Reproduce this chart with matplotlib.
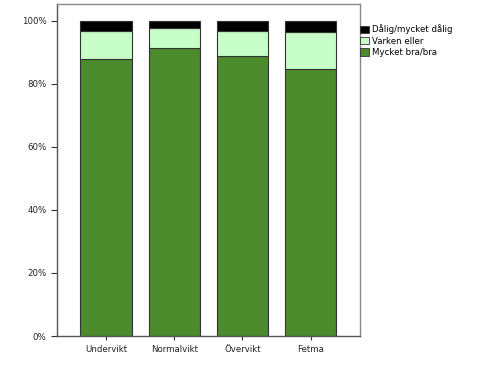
import matplotlib
matplotlib.use("Agg")
import matplotlib.pyplot as plt
import numpy as np
from matplotlib.patches import Patch
from matplotlib.ticker import PercentFormatter

# Data (percent of each BMI group)
categories = ["Undervikt", "Normalvikt", "Övervikt", "Fetma"]
mycket_bra = [87.8, 91.4, 88.9, 84.6]
varken = [8.8, 6.2, 7.9, 11.7]
dalig = [3.4, 2.4, 3.2, 3.7]

labels = ["Dålig/mycket dålig", "Varken eller", "Mycket bra/bra"]
colors = ["#000000", "#c8ffc8", "#4b8b2b"]

fig = plt.figure(figsize=(4.81, 3.83), dpi=100)
ax = fig.add_axes([0.1185, 0.1227, 0.6295, 0.867])

x = np.arange(len(categories))
w = 0.755
edge = "#333333"
ax.bar(x, mycket_bra, w, color=colors[2], edgecolor=edge, linewidth=0.8)
ax.bar(x, varken, w, bottom=mycket_bra, color=colors[1], edgecolor=edge, linewidth=0.8)
bottom2 = np.array(mycket_bra) + np.array(varken)
ax.bar(x, dalig, w, bottom=bottom2, color=colors[0], edgecolor=edge, linewidth=0.8)

ax.set_xlim(-0.72, 3.72)
ax.set_ylim(0, 105.3)
ax.set_yticks([0, 20, 40, 60, 80, 100])
ax.yaxis.set_major_formatter(PercentFormatter(decimals=0))
ax.set_xticks(x)
ax.set_xticklabels(categories)
ax.tick_params(axis="both", labelsize=6.2, length=4, width=0.8, color="#333333", labelcolor="#222222")
ax.tick_params(axis="x", length=3)

for side in ["top", "right"]:
    ax.spines[side].set_color("#888888")
    ax.spines[side].set_linewidth(1.0)
for side in ["left", "bottom"]:
    ax.spines[side].set_color("#555555")
    ax.spines[side].set_linewidth(1.0)

handles = [Patch(facecolor=c, edgecolor=edge, linewidth=0.6) for c in colors]
fig.legend(handles, labels, loc="upper left", bbox_to_anchor=(0.742, 0.945),
           frameon=False, fontsize=6.2, handlelength=1.0, handleheight=1.0,
           handletextpad=0.3, labelspacing=0.25, borderaxespad=0)

fig.savefig("out.png", dpi=100)
